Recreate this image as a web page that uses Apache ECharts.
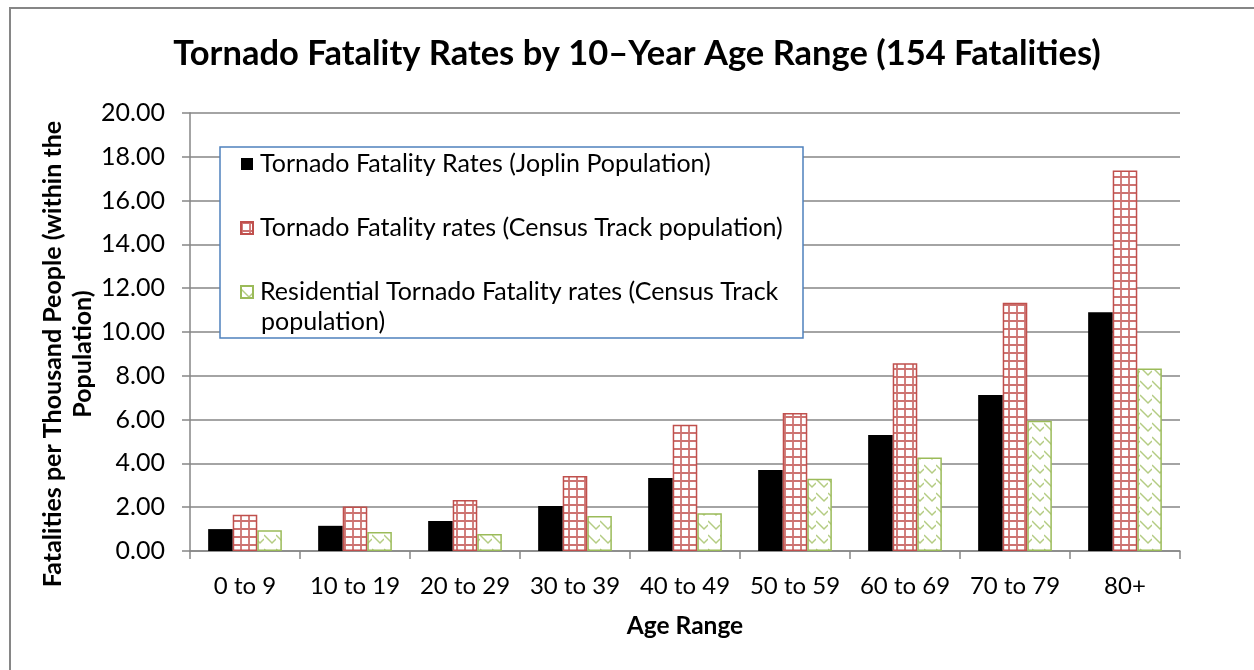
<!DOCTYPE html>
<html>
<head>
<meta charset="utf-8">
<script src="https://cdn.jsdelivr.net/npm/echarts@6/dist/echarts.min.js"></script>
<style>
  html, body { margin: 0; padding: 0; background: #ffffff; }
  #chart { width: 1254px; height: 670px; }
</style>
</head>
<body>
<div id="chart"></div>
<script>
// Age ranges along the x axis
const categories = ['0 to 9', '10 to 19', '20 to 29', '30 to 39', '40 to 49', '50 to 59', '60 to 69', '70 to 79', '80+'];

// Fatalities per thousand people, per age range
const joplinRates      = [1.00, 1.15, 1.37, 2.05, 3.33, 3.70, 5.30, 7.12, 10.90];
const censusRates      = [1.65, 2.03, 2.33, 3.42, 5.77, 6.30, 8.57, 11.33, 17.37];
const residentialRates = [0.95, 0.87, 0.78, 1.60, 1.72, 3.30, 4.27, 5.95, 8.33];

// Series names
const seriesNames = [
  'Tornado Fatality Rates (Joplin Population)',
  'Tornado Fatality rates (Census Track population)',
  'Residential Tornado Fatality rates (Census Track population)'
];

// Value axis range
const yMin = 0, yMax = 20, yStep = 2;

const FONT = 'Lato, "Open Sans", sans-serif';
const AXIS_GREY = '#868686';

// Small square grid fill for the census-tract bars
function gridFill() {
  const c = document.createElement('canvas');
  c.width = 8; c.height = 8;
  const g = c.getContext('2d');
  g.fillStyle = '#ffffff';
  g.fillRect(0, 0, 8, 8);
  g.strokeStyle = 'rgba(192,80,77,0.8)';
  g.lineWidth = 1.8;
  g.beginPath();
  g.moveTo(1, 0); g.lineTo(1, 8);
  g.moveTo(0, 1); g.lineTo(8, 1);
  g.stroke();
  return c;
}

// Zig-zag fill for the residential bars
function zigzagFill() {
  const c = document.createElement('canvas');
  c.width = 12; c.height = 14;
  const g = c.getContext('2d');
  g.fillStyle = '#ffffff';
  g.fillRect(0, 0, 12, 14);
  g.strokeStyle = 'rgba(155,187,89,0.75)';
  g.lineWidth = 1.5;
  g.beginPath();
  g.moveTo(0, 3); g.lineTo(8, 11); g.lineTo(12, 7);
  g.stroke();
  return c;
}

const chart = echarts.init(document.getElementById('chart'), null, { renderer: 'canvas' });

const option = {
  backgroundColor: '#ffffff',
  animation: false,
  title: {
    text: 'Tornado Fatality Rates by 10\u2013Year Age Range (154 Fatalities)',
    left: 632,
    top: 31,
    textAlign: 'center',
    textStyle: { fontFamily: FONT, fontSize: 34.5, fontWeight: 'bold', color: '#000000' }
  },
  grid: { left: 190, right: 74, top: 113, bottom: 119, containLabel: false },
  legend: {
    orient: 'vertical',
    left: 240,
    top: 149,
    padding: 0,
    itemGap: 34,
    itemWidth: 12,
    itemHeight: 12,
    icon: 'rect',
    z: 6,
    data: seriesNames,
    formatter: function (name) {
      return name === seriesNames[2] ? 'Residential Tornado Fatality rates (Census Track' : name;
    },
    textStyle: { fontFamily: FONT, fontSize: 25, color: '#000000', lineHeight: 30, padding: [0, 0, 0, 2] }
  },
  xAxis: {
    type: 'category',
    data: categories,
    name: 'Age Range',
    nameLocation: 'middle',
    nameGap: 63,
    nameTextStyle: { fontFamily: FONT, fontSize: 24.5, fontWeight: 'bold', color: '#000000' },
    axisLine: { show: true, lineStyle: { color: AXIS_GREY, width: 1.5 } },
    axisTick: { show: true, length: 8, alignWithLabel: false, lineStyle: { color: AXIS_GREY, width: 1.5 } },
    axisLabel: { interval: 0, hideOverlap: false, fontFamily: FONT, fontSize: 24, color: '#000000', margin: 23 }
  },
  yAxis: {
    type: 'value',
    min: yMin,
    max: yMax,
    interval: yStep,
    axisLine: { show: true, lineStyle: { color: AXIS_GREY, width: 1.5 } },
    axisTick: { show: true, length: 8, lineStyle: { color: AXIS_GREY, width: 1.5 } },
    splitLine: { show: true, lineStyle: { color: AXIS_GREY, width: 1.5 } },
    axisLabel: {
      fontFamily: FONT, fontSize: 25, color: '#000000', margin: 25,
      formatter: function (v) { return v.toFixed(2); }
    }
  },
  series: [
    {
      name: seriesNames[0],
      type: 'bar',
      data: joplinRates,
      barGap: '0%',
      barCategoryGap: '33%',
      itemStyle: { color: '#000000' }
    },
    {
      name: seriesNames[1],
      type: 'bar',
      data: censusRates,
      barGap: '0%',
      barCategoryGap: '33%',
      itemStyle: {
        color: { image: gridFill(), repeat: 'repeat' },
        borderColor: '#C0504D',
        borderWidth: 1.5
      }
    },
    {
      name: seriesNames[2],
      type: 'bar',
      data: residentialRates,
      barGap: '0%',
      barCategoryGap: '33%',
      itemStyle: {
        color: { image: zigzagFill(), repeat: 'repeat' },
        borderColor: '#9BBB59',
        borderWidth: 1.5
      }
    }
  ],
  graphic: [
    // chart frame
    {
      type: 'rect', silent: true, z: -10,
      shape: { x: 10, y: 8, width: 1400, height: 800 },
      style: { fill: null, stroke: AXIS_GREY, lineWidth: 2 }
    },
    // legend frame
    {
      type: 'rect', silent: true, z: 3,
      shape: { x: 220, y: 147, width: 583, height: 191 },
      style: { fill: '#ffffff', stroke: '#4F81BD', lineWidth: 1.5 }
    },
    // wrapped tail of the third legend entry
    {
      type: 'text', silent: true, z: 6,
      x: 261, y: 322,
      style: { text: 'population)', fontFamily: FONT, fontSize: 25, fill: '#000000', verticalAlign: 'middle' }
    },
    // value axis title
    {
      type: 'text', silent: true,
      x: 68, y: 354, rotation: Math.PI / 2,
      style: {
        text: 'Fatalities per Thousand People (within the\nPopulation)',
        fontFamily: FONT, fontSize: 25, fontWeight: 'bold', fill: '#000000',
        align: 'center', verticalAlign: 'middle', lineHeight: 30
      }
    }
  ]
};

chart.setOption(option);
</script>
</body>
</html>
